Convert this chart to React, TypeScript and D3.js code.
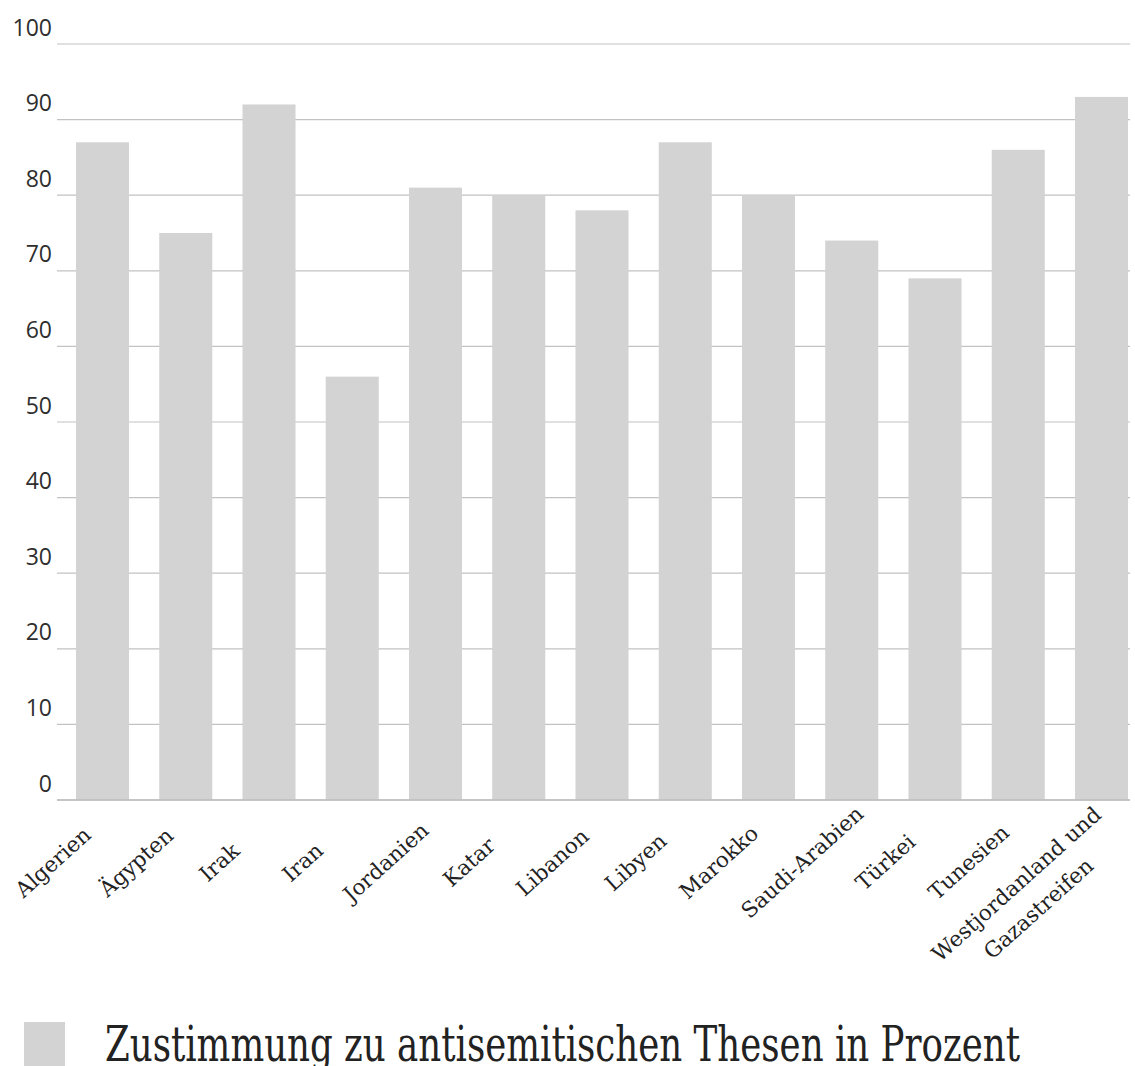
import React from "react";
import * as d3 from "d3";

const categories = [
  "Algerien", "Ägypten", "Irak", "Iran", "Jordanien", "Katar", "Libanon",
  "Libyen", "Marokko", "Saudi-Arabien", "Türkei", "Tunesien",
  "Westjordanland und|Gazastreifen",
];
const values = [87, 75, 92, 56, 81, 80, 78, 87, 80, 74, 69, 86, 93];
const yTicks = [0, 10, 20, 30, 40, 50, 60, 70, 80, 90, 100];
const legendLabel = "Zustimmung zu antisemitischen Thesen in Prozent";

const W = 1135, H = 1066;
const gridLeft = 57, gridRight = 1130, top = 44, bottom = 800;
const serif = "'DejaVu Serif', serif";
const serifCond = "'DejaVu Serif Condensed', 'DejaVu Serif', serif";
const sans = "'Open Sans', 'Noto Sans', sans-serif";
const angle = -42;
const lineH = 33;

export default function App() {
  const x = d3.scaleBand<string>().domain(categories).range([60, 1144]).paddingInner(0.363).paddingOuter(0.192);
  const y = d3.scaleLinear().domain([0, 100]).range([bottom, top]);
  return (
    <svg width={W} height={H} style={{ position: "absolute", left: 0, top: 0, background: "#fff" }}>
      {yTicks.map((t) => (
        <g key={t}>
          <line x1={gridLeft} x2={gridRight} y1={y(t)} y2={y(t)} stroke="#c2c2c2" strokeWidth={1.2} />
          <text x={52} y={y(t) - 8.5} textAnchor="end" fontFamily={sans} fontSize={23} fill="#2e2e2e">{t}</text>
        </g>
      ))}
      {categories.map((c, i) => (
        <rect key={c} x={x(c)} y={y(values[i])} width={x.bandwidth()} height={y(0) - y(values[i])} fill="#d3d3d3" />
      ))}
      <line x1={gridLeft} x2={gridRight} y1={y(0)} y2={y(0)} stroke="#bdbdbd" strokeWidth={1.6} />
      {categories.map((c) => {
        const cx = (x(c) as number) + x.bandwidth() / 2;
        const lines = c.split("|");
        const n = lines.length;
        return (
          <g key={"l" + c} transform={`translate(${cx - 48},${864}) rotate(${angle}) translate(${-41 * (n - 1)},${9 * (n - 1)})`}>
            {lines.map((ln, k) => (
              <text key={k} x={0} y={5 + (k - (n - 1) / 2) * lineH} textAnchor="middle"
                fontFamily={serif} fontSize={21.5} fill="#222">{ln}</text>
            ))}
          </g>
        );
      })}
      <rect x={24} y={1022} width={41} height={44} fill="#d3d3d3" />
      <text x={105} y={1061} fontFamily={serifCond} fontSize={48} fill="#222" textLength={915} lengthAdjust="spacingAndGlyphs">{legendLabel}</text>
    </svg>
  );
}
